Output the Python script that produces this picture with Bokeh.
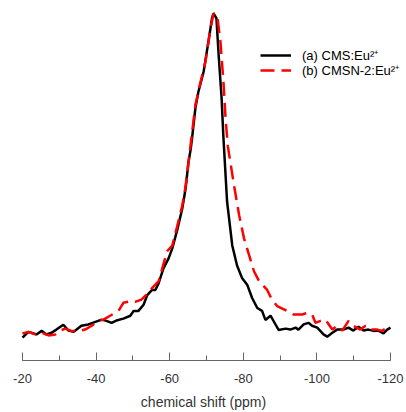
from bokeh.plotting import figure
from bokeh.models import Range1d, SingleIntervalTicker, Legend, LegendItem
from bokeh.embed import file_html
from bokeh.resources import INLINE

# chemical shift (ppm) and normalized intensity
cms_shift = [-20.0, -21.6, -23.0, -23.8, -25.2, -26.5, -27.9, -29.2, -31.1, -32.5, -33.9, -34.7,
             -36.0, -37.9, -39.8, -41.5, -42.8, -44.2, -45.5, -47.4, -49.3, -50.2, -51.5, -52.9,
             -53.9, -55.2, -56.1, -57.0, -58.3, -59.7, -60.7, -62.0, -63.4, -64.3, -65.1, -65.7,
             -66.1, -67.0, -67.8, -69.2, -70.5, -71.5, -71.9, -72.7, -73.3, -74.1, -74.6, -75.6,
             -77.0, -78.3, -79.7, -81.1, -82.4, -83.8, -85.1, -86.0, -87.4, -88.8, -89.6, -91.5,
             -92.8, -94.2, -95.0, -96.4, -97.7, -98.7, -100.1, -101.8, -102.8, -104.2, -105.5,
             -107.2, -108.6, -109.9, -111.3, -112.7, -114.0, -115.4, -116.7, -118.1, -119.1, -120.0]
cms_int = [-0.006, 0.012, 0.007, 0.004, 0.015, 0.004, 0.009, 0.019, 0.034, 0.016, 0.012, 0.019,
           0.031, 0.035, 0.043, 0.050, 0.046, 0.040, 0.047, 0.053, 0.062, 0.077, 0.077, 0.096,
           0.126, 0.142, 0.142, 0.163, 0.209, 0.240, 0.271, 0.326, 0.394, 0.455, 0.538, 0.578,
           0.615, 0.708, 0.757, 0.818, 0.911, 0.985, 1.000, 0.985, 0.871, 0.738, 0.615, 0.415,
           0.280, 0.218, 0.178, 0.157, 0.117, 0.086, 0.077, 0.049, 0.062, 0.034, 0.018, 0.022,
           0.019, 0.025, 0.019, 0.035, 0.040, 0.031, 0.025, 0.004, -0.003, 0.009, 0.019,
           0.019, 0.025, 0.016, 0.028, 0.016, 0.019, 0.015, 0.016, 0.007, 0.019, 0.025]

cmsn_shift = [-20.0, -21.6, -23.5, -25.2, -27.1, -28.9, -30.2, -31.6, -33.3, -35.2, -37.0, -38.8,
              -40.7, -42.0, -43.8, -45.2, -46.1, -47.4, -49.3, -50.6, -52.3, -53.7, -55.2, -57.0,
              -59.3, -60.7, -62.0, -63.4, -64.3, -65.7, -67.0, -68.4, -69.7, -71.1, -71.9, -72.9,
              -73.8, -74.6, -75.2, -75.8, -77.5, -78.9, -80.2, -81.6, -82.9, -84.3, -86.5, -87.8,
              -89.2, -91.9, -93.6, -96.0, -97.4, -98.7, -99.6, -101.0, -102.3, -104.2, -105.5,
              -106.9, -108.6, -109.9, -111.8, -113.2, -114.6, -116.4, -117.7, -119.1, -120.0]
cmsn_int = [0.007, 0.012, 0.004, 0.009, 0.001, 0.004, 0.016, 0.022, 0.015, 0.015, 0.019, 0.031,
            0.046, 0.050, 0.062, 0.071, 0.077, 0.102, 0.107, 0.105, 0.112, 0.127, 0.148, 0.169,
            0.262, 0.280, 0.338, 0.403, 0.462, 0.594, 0.717, 0.788, 0.849, 0.954, 1.000, 0.994,
            0.911, 0.788, 0.671, 0.588, 0.465, 0.372, 0.302, 0.249, 0.200, 0.169, 0.142, 0.111,
            0.092, 0.077, 0.066, 0.066, 0.071, 0.066, 0.040, 0.046, 0.050, 0.019, 0.031,
            0.016, 0.046, 0.031, 0.019, 0.031, 0.019, 0.019, 0.015, 0.025, 0.025]

series_labels = ["(a) CMS:Eu\u00b2\u207a", "(b) CMSN-2:Eu\u00b2\u207a"]
tick_values = [-20, -40, -60, -80, -100, -120]
tick_labels = ["-20", "-40", "-60", "-80", "-100", "-120"]
axis_title = "chemical shift (ppm)"

p = figure(width=406, height=412, output_backend="svg", toolbar_location=None,
           x_range=Range1d(-14.02, -124.35), y_range=Range1d(-0.0769, 1.04),
           min_border_left=0, min_border_right=0, min_border_top=0, min_border_bottom=49)
p.outline_line_color = None
p.grid.visible = False
p.yaxis.visible = False

r1 = p.line(cms_shift, cms_int, line_color="black", line_width=2.5)
r2 = p.line(cmsn_shift, cmsn_int, line_color="#ff0000", line_width=2.5, line_dash="14 7")

ax = p.xaxis[0]
ax.ticker = SingleIntervalTicker(interval=20, num_minor_ticks=2)
ax.bounds = (-120, -20)
ax.major_label_overrides = {v: s for v, s in zip(tick_values, tick_labels)}
ax.axis_line_color = "#666666"
ax.major_tick_line_color = "#666666"
ax.minor_tick_line_color = "#666666"
ax.major_tick_in = 8
ax.major_tick_out = 0
ax.minor_tick_in = 5
ax.minor_tick_out = 0
ax.major_label_standoff = 13
ax.major_label_text_font = "Liberation Sans"
ax.major_label_text_font_size = "13px"
ax.major_label_text_color = "#333333"
ax.axis_label = axis_title
ax.axis_label_text_font = "Liberation Sans"
ax.axis_label_text_font_size = "14px"
ax.axis_label_text_font_style = "normal"
ax.axis_label_text_color = "#333333"
ax.axis_label_standoff = 8


def make_legend(label, renderer, loc):
    lg = Legend(items=[LegendItem(label=label, renderers=[renderer])], location=loc)
    lg.border_line_alpha = 0
    lg.background_fill_alpha = 0
    lg.padding = 0
    lg.margin = 0
    lg.spacing = 0
    lg.glyph_width = 31
    lg.glyph_height = 16
    lg.label_height = 16
    lg.label_standoff = 11
    lg.label_text_font = "Liberation Sans"
    lg.label_text_font_size = "13px"
    lg.label_text_color = "black"
    return lg


p.add_layout(make_legend(series_labels[0], r1, (260, 296)), "center")
p.add_layout(make_legend(series_labels[1], r2, (260, 281)), "center")

open("out.html", "w").write(file_html(p, INLINE))
